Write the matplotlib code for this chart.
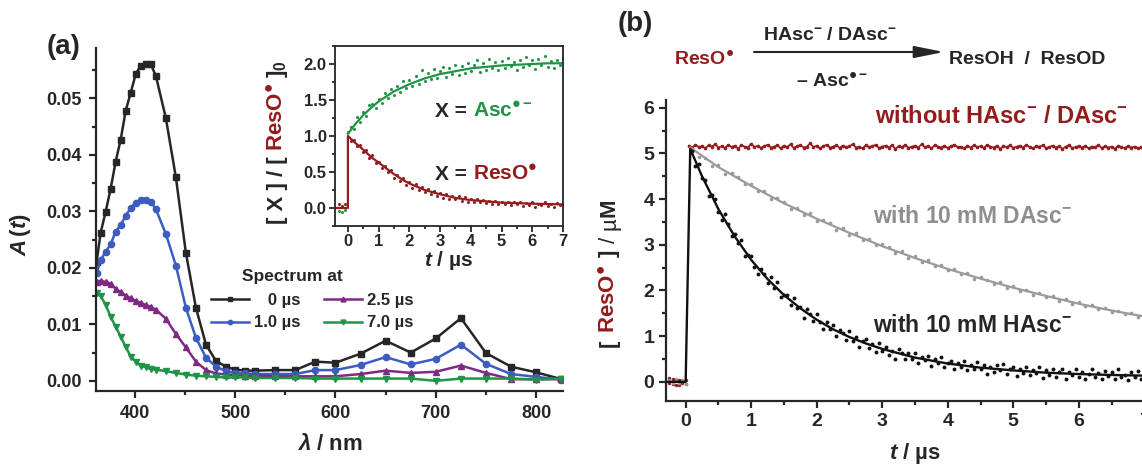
import numpy as np
import matplotlib
matplotlib.use('Agg')
import matplotlib.pyplot as plt
from matplotlib.ticker import MultipleLocator, FormatStrFormatter

# ---------------- panel (a): transient spectra
wavelength = [362, 366, 371, 376, 381, 386, 391, 396, 401, 406, 411, 416, 421,
              431, 441, 451, 461, 471, 481, 491, 500, 510, 520, 540, 560,
              580, 600, 625, 650, 675, 700, 725, 750, 775, 800, 825]
abs_0us = [0.0210, 0.0262, 0.0299, 0.0340, 0.0388, 0.0427, 0.0478, 0.0510, 0.0543,
           0.0558, 0.0561, 0.0560, 0.0540, 0.0465, 0.0360, 0.0226, 0.0129, 0.0064,
           0.0035, 0.0025, 0.0020, 0.0018, 0.0018, 0.0019, 0.0019, 0.0034, 0.0032,
           0.0048, 0.0071, 0.0050, 0.0075, 0.0111, 0.0049, 0.0025, 0.0015, 0.0003]
abs_1us = [0.0190, 0.0214, 0.0228, 0.0242, 0.0264, 0.0276, 0.0292, 0.0306, 0.0315,
           0.0320, 0.0320, 0.0317, 0.0304, 0.0260, 0.0204, 0.0129, 0.0076, 0.0041,
           0.0025, 0.0017, 0.0014, 0.0013, 0.0012, 0.0012, 0.0012, 0.0019, 0.0019,
           0.0028, 0.0042, 0.0029, 0.0039, 0.0064, 0.0030, 0.0012, 0.0007, 0.0002]
abs_2p5us = [0.0175, 0.0177, 0.0175, 0.0172, 0.0163, 0.0157, 0.0151, 0.0146, 0.0142,
             0.0138, 0.0134, 0.0131, 0.0126, 0.0110, 0.0083, 0.0059, 0.0034, 0.0019,
             0.0013, 0.0011, 0.0010, 0.0009, 0.0009, 0.0008, 0.0008, 0.0008, 0.0008,
             0.0012, 0.0018, 0.0014, 0.0016, 0.0027, 0.0014, 0.0003, 0.0003, 0.0003]
abs_7us = [0.0155, 0.0150, 0.0135, 0.0113, 0.0096, 0.0078, 0.0060, 0.0043, 0.0034,
           0.0027, 0.0024, 0.0021, 0.0020, 0.0017, 0.0014, 0.0011, 0.0009, 0.0008,
           0.0007, 0.0006, 0.0006, 0.0006, 0.0005, 0.0005, 0.0005, 0.0004, 0.0004,
           0.0004, 0.0004, 0.0004, 0.0000, 0.0004, 0.0004, 0.0004, 0.0002, 0.0004]

# ---------------- inset: normalised kinetics, t = -0.3 ... 7.0 us
t_inset = np.round(np.arange(-0.3, 7.05, 0.1), 2)
asc_inset = [-0.04, -0.06, -0.03,
             1.05, 1.12, 1.10, 1.26, 1.20, 1.34, 1.28, 1.43, 1.45, 1.39,
             1.52, 1.46, 1.60, 1.53, 1.65, 1.57, 1.70, 1.61, 1.76, 1.66,
             1.78, 1.69, 1.84, 1.72, 1.92, 1.76, 1.88, 1.79, 1.93, 1.80,
             1.90, 1.96, 1.82, 1.94, 1.86, 1.99, 1.85, 1.97, 1.88, 2.02,
             1.90, 1.99, 2.06, 1.89, 2.01, 1.92, 2.07, 1.95, 2.03, 1.91,
             2.04, 1.94, 2.08, 1.97, 2.03, 1.92, 2.06, 1.96, 2.10, 1.98,
             2.05, 1.93, 2.07, 1.99, 2.11, 1.96, 2.04, 1.94, 2.06, 1.98,
             2.08]
reso_inset = [0.05, 0.03, 0.06,
              0.98, 0.93, 0.95, 0.86, 0.88, 0.78, 0.80, 0.70, 0.73, 0.63,
              0.64, 0.56, 0.59, 0.50, 0.53, 0.41, 0.46, 0.37, 0.41, 0.32,
              0.36, 0.28, 0.33, 0.25, 0.29, 0.22, 0.26, 0.19, 0.24, 0.16,
              0.21, 0.14, 0.19, 0.13, 0.17, 0.12, 0.16, 0.10, 0.15, 0.09,
              0.13, 0.09, 0.12, 0.08, 0.11, 0.07, 0.10, 0.06, 0.10, 0.05,
              0.09, 0.05, 0.08, 0.04, 0.08, 0.05, 0.09, 0.03, 0.07, 0.04,
              0.08, 0.02, 0.06, 0.04, 0.08, 0.03, 0.06, 0.02, 0.07, 0.04,
              0.06]
asc_fit_t = [0, 0.25, 0.5, 0.75, 1.0, 1.25, 1.5, 1.75, 2.0, 2.5, 3.0, 3.5, 4.0,
             4.5, 5.0, 5.5, 6.0, 6.5, 7.0]
asc_fit = [1.03, 1.17, 1.29, 1.39, 1.48, 1.55, 1.62, 1.67, 1.72, 1.80, 1.86, 1.90,
           1.94, 1.96, 1.98, 1.99, 2.00, 2.01, 2.01]
reso_fit_t = [-0.42, 0.0, 0.0, 0.25, 0.5, 0.75, 1.0, 1.25, 1.5, 1.75, 2.0, 2.5,
              3.0, 3.5, 4.0, 5.0, 6.0, 7.0]
reso_fit = [0.0, 0.0, 1.0, 0.90, 0.81, 0.71, 0.63, 0.55, 0.47, 0.40, 0.34, 0.25,
            0.19, 0.14, 0.11, 0.075, 0.06, 0.05]

# ---------------- panel (b): [ResO*] decays
t_pre = [-0.25, -0.2, -0.15, -0.1, -0.05, 0.0]
none_pre = [0.08, -0.05, 0.04, -0.07, 0.02, -0.04]
dasc_pre = [0.05, -0.03, 0.06, -0.02, 0.03, -0.05]
hasc_pre = [-0.02, 0.06, -0.06, 0.04, -0.03, 0.05]

# without HAsc-/DAsc-, t = 0.05 ... 7.25 us
none_b = [5.17, 5.13, 5.19, 5.14, 5.16, 5.11, 5.18, 5.15, 5.20, 5.13,
          5.16, 5.12, 5.19, 5.14, 5.17, 5.10, 5.18, 5.15, 5.13, 5.21,
          5.14, 5.17, 5.12, 5.16, 5.19, 5.13, 5.15, 5.18, 5.11, 5.17,
          5.14, 5.20, 5.12, 5.16, 5.18, 5.13, 5.15, 5.22, 5.14, 5.17,
          5.11, 5.16, 5.19, 5.13, 5.15, 5.18, 5.12, 5.17, 5.14, 5.16,
          5.20, 5.13, 5.15, 5.11, 5.18, 5.14, 5.16, 5.19, 5.12, 5.15,
          5.17, 5.13, 5.18, 5.10, 5.16, 5.14, 5.19, 5.12, 5.15, 5.17,
          5.13, 5.20, 5.14, 5.16, 5.11, 5.18, 5.15, 5.13, 5.17, 5.12,
          5.16, 5.19, 5.14, 5.15, 5.11, 5.17, 5.13, 5.18, 5.14, 5.16,
          5.12, 5.19, 5.15, 5.13, 5.17, 5.10, 5.16, 5.14, 5.18, 5.12,
          5.15, 5.17, 5.13, 5.19, 5.14, 5.11, 5.16, 5.15, 5.18, 5.12,
          5.14, 5.17, 5.13, 5.16, 5.10, 5.15, 5.18, 5.12, 5.14, 5.16,
          5.13, 5.17, 5.11, 5.15, 5.14, 5.18, 5.12, 5.16, 5.13, 5.15,
          5.10, 5.17, 5.14, 5.12, 5.16, 5.13, 5.15, 5.11, 5.14, 5.16,
          5.12, 5.13, 5.15, 5.11, 5.14]
t_none = np.round(0.05 + 0.05 * np.arange(len(none_b)), 2)

# with 10 mM DAsc-, t = 0.1 ... 7.2 us
dasc_b = [5.09, 4.93, 4.91, 4.73, 4.74, 4.56, 4.57, 4.49, 4.32, 4.33,
          4.17, 4.18, 4.01, 4.03, 3.94, 3.79, 3.81, 3.66, 3.69, 3.53,
          3.55, 3.47, 3.33, 3.37, 3.22, 3.25, 3.10, 3.12, 2.99, 3.01,
          2.95, 2.82, 2.86, 2.72, 2.75, 2.63, 2.66, 2.53, 2.56, 2.44,
          2.47, 2.35, 2.38, 2.26, 2.29, 2.24, 2.14, 2.18, 2.06, 2.09,
          1.99, 2.02, 1.91, 1.95, 1.85, 1.88, 1.77, 1.81, 1.71, 1.74,
          1.65, 1.68, 1.59, 1.62, 1.53, 1.56, 1.48, 1.51, 1.42, 1.46,
          1.37, 1.40]
t_dasc = np.round(0.1 + 0.1 * np.arange(len(dasc_b)), 2)

# with 10 mM HAsc-, t = 0.10 ... 7.25 us
hasc_b = [5.05, 4.73, 4.77, 4.46, 4.42, 4.06, 4.08, 4.01, 3.71, 3.54,
          3.67, 3.45, 3.20, 3.24, 3.05, 3.10, 2.76, 2.78, 2.76, 2.52,
          2.36, 2.48, 2.36, 2.17, 2.29, 2.06, 2.18, 1.85, 1.90, 1.90,
          1.68, 1.84, 1.61, 1.63, 1.40, 1.59, 1.49, 1.34, 1.49, 1.30,
          1.16, 1.31, 1.16, 1.25, 1.00, 1.13, 1.06, 0.92, 1.11, 0.89,
          0.99, 0.76, 0.89, 0.93, 0.73, 0.83, 0.65, 0.86, 0.68, 0.76,
          0.58, 0.67, 0.50, 0.72, 0.63, 0.51, 0.64, 0.50, 0.64, 0.42,
          0.54, 0.47, 0.56, 0.34, 0.51, 0.41, 0.54, 0.33, 0.42, 0.46,
          0.27, 0.42, 0.32, 0.45, 0.26, 0.37, 0.27, 0.44, 0.29, 0.37,
          0.17, 0.33, 0.22, 0.37, 0.25, 0.38, 0.17, 0.28, 0.32, 0.13,
          0.29, 0.20, 0.33, 0.14, 0.25, 0.19, 0.33, 0.09, 0.26, 0.15,
          0.27, 0.10, 0.21, 0.29, 0.06, 0.22, 0.15, 0.27, 0.10, 0.22,
          0.06, 0.18, 0.27, 0.10, 0.19, 0.06, 0.23, 0.13, 0.21, 0.07,
          0.27, 0.10, 0.16, 0.04, 0.21, 0.11, 0.24, 0.07, 0.18, 0.08,
          0.22, 0.02, 0.16, 0.11]
t_hasc = np.round(0.10 + 0.05 * np.arange(len(hasc_b)), 2)

hasc_fit_t = [-0.3, 0.0, 0.07, 0.25, 0.5, 0.75, 1.0, 1.25, 1.5, 1.75, 2.0, 2.25,
              2.5, 2.75, 3.0, 3.5, 4.0, 4.5, 5.0, 5.5, 6.0, 6.5, 7.0, 7.3]
hasc_fit = [0.0, 0.0, 5.10, 4.50, 3.78, 3.18, 2.67, 2.25, 1.90, 1.61, 1.36, 1.15,
            0.98, 0.84, 0.72, 0.53, 0.40, 0.31, 0.25, 0.20, 0.17, 0.15, 0.135, 0.13]
dasc_fit_t = [0.07, 0.5, 1.0, 1.5, 2.0, 2.5, 3.0, 3.5, 4.0, 4.5, 5.0, 5.5, 6.0,
              6.5, 7.0, 7.3]
dasc_fit = [5.13, 4.70, 4.29, 3.91, 3.57, 3.26, 2.97, 2.71, 2.47, 2.26, 2.06, 1.88,
            1.71, 1.56, 1.43, 1.35]

# ---------------- style
plt.rcParams['font.family'] = ['Liberation Sans', 'DejaVu Sans']
plt.rcParams['font.weight'] = 'bold'
plt.rcParams['axes.labelweight'] = 'bold'
plt.rcParams['mathtext.fontset'] = 'custom'
plt.rcParams['mathtext.rm'] = 'Liberation Sans:bold'
plt.rcParams['mathtext.bf'] = 'Liberation Sans:bold'
plt.rcParams['mathtext.sf'] = 'Liberation Sans:bold'
plt.rcParams['mathtext.it'] = 'Liberation Sans:italic:bold'

INK = '#262626'
RED = '#931c1c'
GREEN = '#1f9447'
BLUE = '#3d5cc2'
PURPLE = '#7e2a85'
GRAY = '#9a9a9a'
GRAY_TXT = '#8e8e8e'
DOT = '$^{●}$'

W, H = 1142, 470
fig = plt.figure(figsize=(W / 100, H / 100), dpi=100)


def box(l, t, r, b):
    # pixel edges -> figure fraction rect
    return [l / W, 1 - b / H, (r - l) / W, (b - t) / H]


def style(ax, size, lw=1.6, length=5, pad=3.5):
    for s in ax.spines.values():
        s.set_linewidth(lw)
        s.set_color(INK)
    ax.tick_params(which='both', direction='out', width=lw, color=INK,
                   labelsize=size, labelcolor=INK, pad=pad)
    ax.tick_params(which='major', length=length)
    ax.tick_params(which='minor', length=length * 0.6)


def put_text(x, y, items, size, vertical=False):
    # multi-coloured text, items = (text, colour[, kwargs]) or a gap in px
    r = fig.canvas.get_renderer()
    pos = 0.0
    for it in items:
        if isinstance(it, (int, float)):
            pos += it
            continue
        s, col = it[0], it[1]
        kw = it[2] if len(it) > 2 else {}
        if vertical:
            t = fig.text(x / W, 1 - (y - pos) / H, s, color=col, fontsize=size,
                         rotation=90, rotation_mode='anchor', ha='left',
                         va='baseline', **kw)
            pos += t.get_window_extent(r).height
        else:
            t = fig.text((x + pos) / W, 1 - y / H, s, color=col, fontsize=size,
                         ha='left', va='baseline', **kw)
            pos += t.get_window_extent(r).width


# ---------------- (a) main
axa = fig.add_axes(box(96, 48, 563, 391))
style(axa, 13, pad=5)
axa.spines[['top', 'right']].set_visible(False)
axa.plot(wavelength, abs_0us, '-s', color=INK, lw=1.8, ms=4.5, label='   0 µs')
axa.plot(wavelength, abs_1us, '-o', color=BLUE, lw=1.8, ms=4.5, label='1.0 µs')
axa.plot(wavelength, abs_2p5us, '-^', color=PURPLE, lw=1.8, ms=5, label='2.5 µs')
axa.plot(wavelength, abs_7us, '-v', color=GREEN, lw=1.8, ms=5, label='7.0 µs')
axa.set_xlim(361.4, 826.7)
axa.set_ylim(-0.0018, 0.0589)
axa.xaxis.set_major_locator(MultipleLocator(100))
axa.xaxis.set_minor_locator(MultipleLocator(50))
axa.yaxis.set_major_locator(MultipleLocator(0.01))
axa.yaxis.set_minor_locator(MultipleLocator(0.005))
axa.yaxis.set_major_formatter(FormatStrFormatter('%.2f'))
axa.set_xlabel(r'$\mathit{\lambda}$ / nm', fontsize=16, labelpad=9, color=INK)
axa.set_ylabel(r'$\mathit{A}\,(\mathit{t})$', fontsize=16, color=INK)
axa.yaxis.set_label_coords(-0.135, 0.455)
leg = axa.legend(loc='upper left', bbox_to_anchor=(211 / W, 1 - 293 / H),
                 bbox_transform=fig.transFigure, ncol=2, frameon=False,
                 fontsize=12, handlelength=2.3, handletextpad=0.3,
                 columnspacing=1.4, labelspacing=0.45, borderpad=0,
                 borderaxespad=0, markerscale=0.7)
for txt in leg.get_texts():
    txt.set_color(INK)
fig.text(242 / W, 1 - 281 / H, 'Spectrum at', fontsize=12.5, color=INK,
         va='baseline')
fig.text(47 / W, 1 - 54 / H, '(a)', fontsize=20, color=INK, va='baseline')

# ---------------- (a) inset
axi = fig.add_axes(box(335, 46, 563, 226))
style(axi, 12, lw=1.3, length=4, pad=2)
axi.plot(t_inset, asc_inset, 'o', color=GREEN, ms=2.2, mew=0)
axi.plot(t_inset, reso_inset, 'o', color=RED, ms=2.2, mew=0)
axi.plot(asc_fit_t, asc_fit, color=GREEN, lw=1.6)
axi.plot(reso_fit_t, reso_fit, color=RED, lw=1.6)
axi.set_xlim(-0.42, 7.0)
axi.set_ylim(-0.25, 2.25)
axi.xaxis.set_major_locator(MultipleLocator(1))
axi.xaxis.set_minor_locator(MultipleLocator(0.5))
axi.yaxis.set_major_locator(MultipleLocator(0.5))
axi.yaxis.set_minor_locator(MultipleLocator(0.25))
axi.yaxis.set_major_formatter(FormatStrFormatter('%.1f'))
axi.set_xlabel(r'$\mathit{t}$ / µs', fontsize=15, labelpad=0, color=INK)
put_text(435, 117, [('X =', INK), 6, ('Asc$^{●-}$', GREEN)], 15)
put_text(435, 180, [('X =', INK), 6, ('ResO' + DOT, RED)], 15)
put_text(283, 224, [('[ X ] / [', INK), 5, ('ResO' + DOT, RED), 5,
                    (']$_{0}$', INK)], 16, vertical=True)

# ---------------- (b)
axb = fig.add_axes(box(666, 100, 1164, 401))
style(axb, 14)
axb.spines[['top', 'right']].set_visible(False)
axb.plot(t_pre, none_pre, 'o', color=RED, ms=2.5, mew=0)
axb.plot(t_pre, dasc_pre, 'o', color=GRAY, ms=2.5, mew=0)
axb.plot(t_pre, hasc_pre, 'o', color=RED, ms=2.5, mew=0)
axb.plot(t_none, none_b, '-o', color=RED, lw=1.2, ms=2.6, mew=0)
axb.plot(dasc_fit_t, dasc_fit, color=GRAY, lw=1.6)
axb.plot(t_dasc, dasc_b, 'o', color=GRAY, ms=2.6, mew=0)
axb.plot(t_hasc, hasc_b, 'o', color='#111111', ms=2.8, mew=0)
axb.plot(hasc_fit_t, hasc_fit, color='#111111', lw=1.7)
axb.set_xlim(-0.3, 7.3)
axb.set_ylim(-0.42, 6.17)
axb.xaxis.set_major_locator(MultipleLocator(1))
axb.xaxis.set_minor_locator(MultipleLocator(0.5))
axb.yaxis.set_major_locator(MultipleLocator(1))
axb.yaxis.set_minor_locator(MultipleLocator(0.5))
axb.set_xlabel(r'$\mathit{t}$ / µs', fontsize=16, color=INK)
axb.xaxis.set_label_coords(0.5, -0.132)
put_text(615, 347, [('[', INK), 7, ('ResO' + DOT, RED), 7, (']', INK), 7,
                    ('/', INK, {'fontweight': 'normal'}), 7,
                    ('µ', INK, {'fontweight': 'normal'}), ('M', INK)], 16,
         vertical=True)
fig.text(875 / W, 1 - 123 / H, 'without HAsc$^{-}$ / DAsc$^{-}$', color=RED,
         fontsize=17)
fig.text(873 / W, 1 - 223 / H, 'with 10 mM DAsc$^{-}$', color=GRAY_TXT,
         fontsize=16.5)
fig.text(873 / W, 1 - 332 / H, 'with 10 mM HAsc$^{-}$', color=INK, fontsize=16.5)

# reaction scheme
fig.text(618 / W, 1 - 31 / H, '(b)', fontsize=20, color=INK, va='baseline')
put_text(674, 64, [('ResO' + DOT, RED)], 14)
fig.text(763 / W, 1 - 40 / H, 'HAsc$^{-}$ / DAsc$^{-}$', fontsize=14, color=INK)
fig.text(796 / W, 1 - 86 / H, '– Asc$^{●-}$', fontsize=14, color=INK)
fig.text(949 / W, 1 - 64 / H, 'ResOH  /  ResOD', fontsize=14, color=INK)
axb.annotate('', xy=(944 / W, 1 - 52 / H), xytext=(754 / W, 1 - 52 / H),
             xycoords='figure fraction', textcoords='figure fraction',
             annotation_clip=False,
             arrowprops=dict(arrowstyle='-|>,head_length=0.9,head_width=0.18',
                             mutation_scale=20, color=INK, lw=1.5,
                             shrinkA=0, shrinkB=0))

fig.savefig('out.png', dpi=100)
